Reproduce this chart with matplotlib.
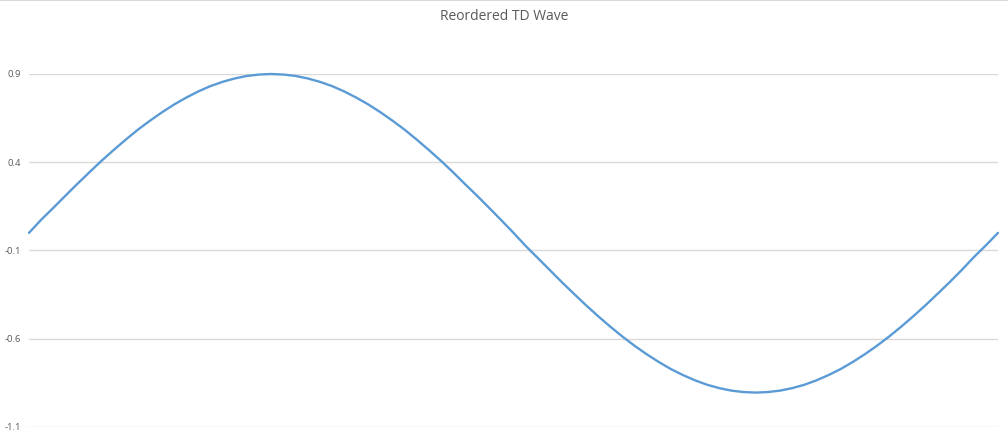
import matplotlib
matplotlib.use("Agg")
import matplotlib.pyplot as plt
from matplotlib.lines import Line2D

# values, one full cycle, 81 samples
upper_half = [0.000, 0.074, 0.141, 0.210, 0.278, 0.344, 0.409, 0.470, 0.529, 0.585,
              0.636, 0.684, 0.728, 0.767, 0.802, 0.832, 0.856, 0.875, 0.889, 0.897,
              0.900, 0.897, 0.889, 0.875, 0.856, 0.832, 0.802, 0.767, 0.728, 0.684,
              0.636, 0.585, 0.529, 0.470, 0.409, 0.344, 0.276, 0.210, 0.141, 0.071]
lower_half = [0.000, -0.074, -0.142, -0.211, -0.280, -0.346, -0.411, -0.473, -0.532, -0.588,
              -0.640, -0.688, -0.732, -0.772, -0.806, -0.836, -0.861, -0.880, -0.894, -0.902,
              -0.905, -0.902, -0.894, -0.880, -0.861, -0.836, -0.806, -0.772, -0.732, -0.688,
              -0.640, -0.588, -0.532, -0.473, -0.411, -0.346, -0.280, -0.211, -0.138, -0.071,
              0.000]
wave = upper_half + lower_half
y_ticks = [0.9, 0.4, -0.1, -0.6, -1.1]
title = "Reordered TD Wave"

fig = plt.figure(figsize=(10.08, 4.36), dpi=100)
ax = fig.add_axes([29/1008, 1 - 427/436, (998 - 29)/1008, (427 - 74)/436])

ax.plot(range(len(wave)), wave, color="#5b9bd5", lw=1.7, clip_on=False,
        solid_capstyle="round", zorder=3)

ax.set_xlim(0, len(wave) - 1)
ax.set_ylim(-1.1, 0.9)
ax.set_yticks(y_ticks)
ax.set_yticklabels([str(v) for v in y_ticks])
ax.set_xticks([])
ax.tick_params(axis="y", length=0, pad=5.5, labelsize=6.8, labelcolor="#595959")
for lbl in ax.get_yticklabels():
    lbl.set_fontfamily("Open Sans")
ax.grid(axis="y", color="#d9d9d9", lw=1)
for s in ax.spines.values():
    s.set_visible(False)

fig.text(0.5, 1 - 17/436, title, ha="center", va="center", fontsize=10,
         color="#595959", family="Open Sans")

# chart border along the top edge
fig.add_artist(Line2D([0, 1], [0.999, 0.999], transform=fig.transFigure,
                      color="#d9d9d9", lw=1.5))

fig.savefig("out.png", dpi=100, facecolor="white")
